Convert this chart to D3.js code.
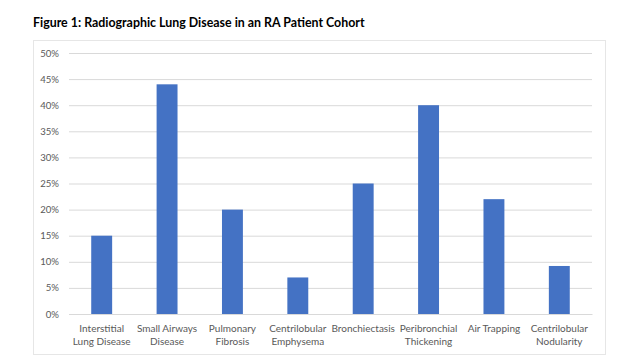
<!DOCTYPE html>
<html><head><meta charset="utf-8">
<script src="https://cdn.jsdelivr.net/npm/d3@7"></script>
<style>body{margin:0;background:#fff;} svg{display:block;}</style>
</head><body>
<svg id="c" width="640" height="360"></svg>
<script>
(function(){
const categories = [["Interstitial","Lung Disease"],["Small Airways","Disease"],["Pulmonary","Fibrosis"],["Centrilobular","Emphysema"],["Bronchiectasis"],["Peribronchial","Thickening"],["Air Trapping"],["Centrilobular","Nodularity"]];
const values = [0.15, 0.44, 0.20, 0.07, 0.25, 0.40, 0.22, 0.092];
const yTicks = [0,0.05,0.10,0.15,0.20,0.25,0.30,0.35,0.40,0.45,0.50];
const title = "Figure 1: Radiographic Lung Disease in an RA Patient Cohort";

const svg = d3.select("#c");
const mLeft = 69, mRight = 592, mTop = 53, mBottom = 314;
svg.append("rect").attr("x",33.5).attr("y",40.5).attr("width",572).attr("height",314)
  .attr("fill","#fff").attr("stroke","#e6e6e6");
svg.append("text").attr("x",33).attr("y",27).text(title)
  .attr("font-family","Lato, 'Open Sans', sans-serif").attr("font-weight","bold").attr("font-size",12.4).attr("fill","#000");

const x = d3.scaleBand().domain(d3.range(categories.length)).range([mLeft,mRight]).paddingInner(0.68).paddingOuter(0.34);
const y = d3.scaleLinear().domain([0,0.5]).range([mBottom,mTop]);

const ya = svg.append("g").attr("transform",`translate(${mLeft},0)`)
  .call(d3.axisLeft(y).tickValues(yTicks).tickFormat(d3.format(".0%")).tickSize(-(mRight-mLeft)).tickPadding(10));
ya.select(".domain").remove();
ya.selectAll("line").attr("stroke","#d9d9d9");
ya.selectAll("text").attr("font-family","Lato, sans-serif").attr("font-size",9.6).attr("fill","#595959");

svg.selectAll("rect.bar").data(values).enter().append("rect").attr("class","bar")
  .attr("x",(d,i)=>x(i)).attr("width",x.bandwidth()).attr("y",d=>y(d)).attr("height",d=>mBottom-y(d)).attr("fill","#4472C4");

const xa = svg.append("g").attr("transform",`translate(0,${mBottom})`)
  .call(d3.axisBottom(x).tickSize(0).tickFormat(""));
xa.select(".domain").attr("stroke","#d9d9d9");
const lab = svg.append("g");
categories.forEach((c,i)=>{
  const cx = x(i)+x.bandwidth()/2;
  const t = lab.append("text").attr("x",cx).attr("y",332).attr("text-anchor","middle")
    .attr("font-family","Lato, sans-serif").attr("font-size",10).attr("fill","#595959");
  c.forEach((s,j)=>t.append("tspan").attr("x",cx).attr("dy",j?13:0).text(s));
});
})();
</script>
</body></html>
